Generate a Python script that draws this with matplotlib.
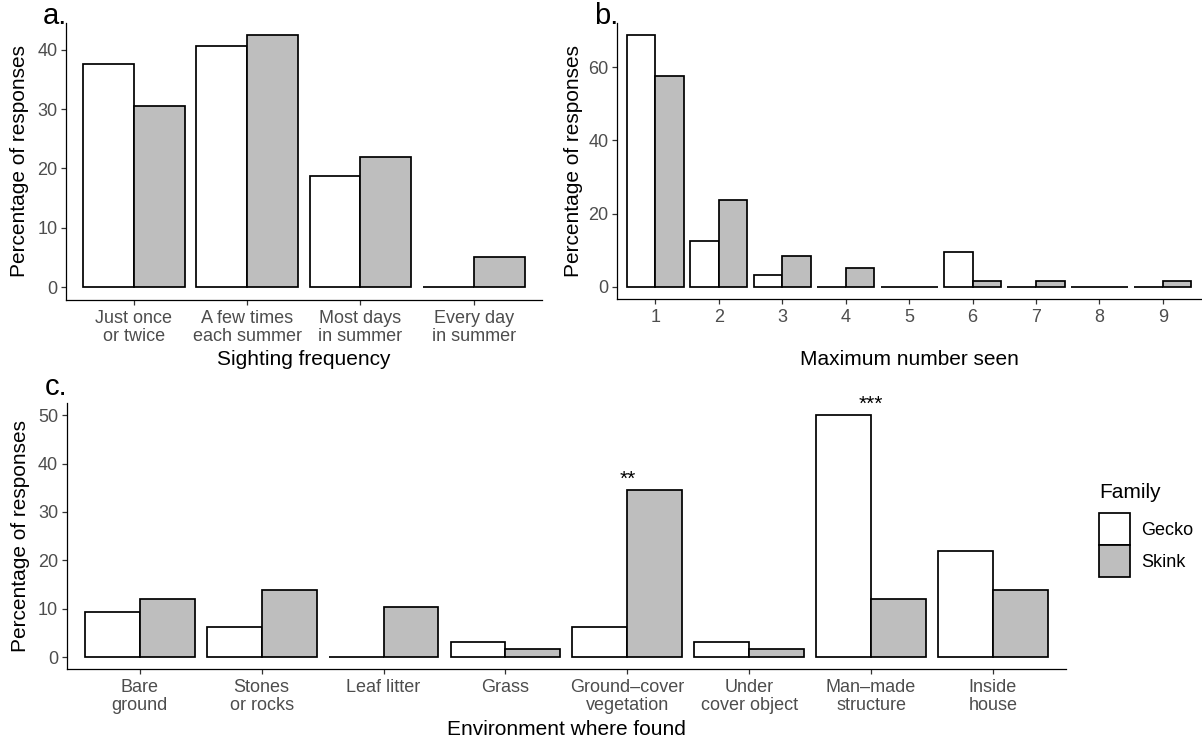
import matplotlib
matplotlib.use("Agg")
import matplotlib.pyplot as plt
import numpy as np

plt.rcParams['font.family'] = ['Liberation Sans', 'DejaVu Sans']

# ---------------- data ----------------
freq_categories = ["Just once\nor twice", "A few times\neach summer",
                   "Most days\nin summer", "Every day\nin summer"]
freq_gecko = [37.5, 40.6, 18.75, 0.0]
freq_skink = [30.5, 42.4, 22.0, 5.1]

max_categories = ["1", "2", "3", "4", "5", "6", "7", "8", "9"]
max_gecko = [68.75, 12.5, 3.1, 0.0, 0.0, 9.4, 0.0, 0.0, 0.0]
max_skink = [57.6, 23.7, 8.5, 5.1, 0.0, 1.7, 1.7, 0.0, 1.7]

env_categories = ["Bare\nground", "Stones\nor rocks", "Leaf litter", "Grass",
                  "Ground\u2013cover\nvegetation", "Under\ncover object",
                  "Man\u2013made\nstructure", "Inside\nhouse"]
env_gecko = [9.4, 6.25, 0.0, 3.1, 6.25, 3.1, 50.0, 21.9]
env_skink = [12.1, 13.8, 10.3, 1.7, 34.5, 1.7, 12.1, 13.8]
env_signif = ["", "", "", "", "**", "", "***", ""]

family_labels = ["Gecko", "Skink"]
family_colors = ["#FFFFFF", "#BEBEBE"]

# ---------------- style ----------------
W, H = 1202, 740
fig = plt.figure(figsize=(W / 100, H / 100), dpi=100)

TICK_FS = 13
TITLE_FS = 15
EDGE_LW = 1.25


def make_ax(left_px, right_px, top_px, bottom_px):
    return fig.add_axes([left_px / W, 1 - bottom_px / H,
                         (right_px - left_px) / W, (bottom_px - top_px) / H])


def style_ax(ax):
    for s in ["top", "right"]:
        ax.spines[s].set_visible(False)
    for s in ["left", "bottom"]:
        ax.spines[s].set_linewidth(0.9)
        ax.spines[s].set_color("black")
    ax.tick_params(axis="both", length=3.7, width=0.9, color="#333333",
                   labelcolor="#4D4D4D", labelsize=TICK_FS)
    ax.tick_params(axis="y", pad=2.5)
    ax.tick_params(axis="x", pad=3.5)


def draw_bars(ax, cats, gecko, skink):
    x = np.arange(len(cats))
    bw = 0.45
    bg = ax.bar(x - bw / 2, gecko, width=bw, color=family_colors[0],
                edgecolor="black", linewidth=EDGE_LW, label=family_labels[0])
    bs = ax.bar(x + bw / 2, skink, width=bw, color=family_colors[1],
                edgecolor="black", linewidth=EDGE_LW, label=family_labels[1])
    ax.set_xticks(x)
    ax.set_xticklabels(cats, linespacing=1.05)
    ax.set_xlim(-0.6, len(cats) - 1 + 0.6)
    ymax = max(max(gecko), max(skink))
    ax.set_ylim(-0.05 * ymax, 1.05 * ymax)
    return bg, bs


# Panel a
ax_a = make_ax(66, 541.7, 22.7, 300)
style_ax(ax_a)
draw_bars(ax_a, freq_categories, freq_gecko, freq_skink)
ax_a.set_yticks([0, 10, 20, 30, 40])
ax_a.set_xlabel("Sighting frequency", fontsize=TITLE_FS)
ax_a.set_ylabel("Percentage of responses", fontsize=TITLE_FS)
ax_a.yaxis.set_label_coords(-0.078, 0.5)
ax_a.xaxis.set_label_coords(0.5, -0.182)

# Panel b
ax_b = make_ax(617.3, 1201, 22.7, 299.3)
style_ax(ax_b)
draw_bars(ax_b, max_categories, max_gecko, max_skink)
ax_b.set_yticks([0, 20, 40, 60])
ax_b.set_xlabel("Maximum number seen", fontsize=TITLE_FS)
ax_b.set_ylabel("Percentage of responses", fontsize=TITLE_FS)
ax_b.yaxis.set_label_coords(-0.058, 0.5)
ax_b.xaxis.set_label_coords(0.5, -0.182)

# Panel c
ax_c = make_ax(66.7, 1066, 403, 669.3)
style_ax(ax_c)
bg, bs = draw_bars(ax_c, env_categories, env_gecko, env_skink)
ax_c.set_yticks([0, 10, 20, 30, 40, 50])
ax_c.set_xlabel("Environment where found", fontsize=TITLE_FS)
ax_c.set_ylabel("Percentage of responses", fontsize=TITLE_FS)
ax_c.yaxis.set_label_coords(-0.037, 0.5)
ax_c.xaxis.set_label_coords(0.5, -0.19)
for i, sig in enumerate(env_signif):
    if sig:
        top = max(env_gecko[i], env_skink[i])
        ax_c.text(i, top + 1.0, sig, ha="center", va="baseline",
                  fontsize=15, color="black", clip_on=False)

# Panel tags
fig.text(43 / W, 1 - 24 / H, "a.", fontsize=21, ha="left", va="baseline")
fig.text(594 / W, 1 - 24 / H, "b.", fontsize=21, ha="left", va="baseline")
fig.text(45 / W, 1 - 395 / H, "c.", fontsize=21, ha="left", va="baseline")

# Legend (title drawn separately for exact spacing)
fig.text(1099 / W, 1 - 493 / H, "Family", fontsize=15, ha="left",
         va="center")
fs_leg = 13
em = fs_leg * 100 / 72
hh = (32 / em - 0.245) / 0.65
fig.legend(handles=[bg, bs], labels=family_labels,
           loc="upper left", bbox_to_anchor=(1099 / W, 1 - 513 / H),
           frameon=False, fontsize=fs_leg,
           handlelength=31 / em, handleheight=hh, labelspacing=0.0,
           handletextpad=0.6, borderpad=0.0, borderaxespad=0.0)

fig.savefig("out.png", dpi=100)
